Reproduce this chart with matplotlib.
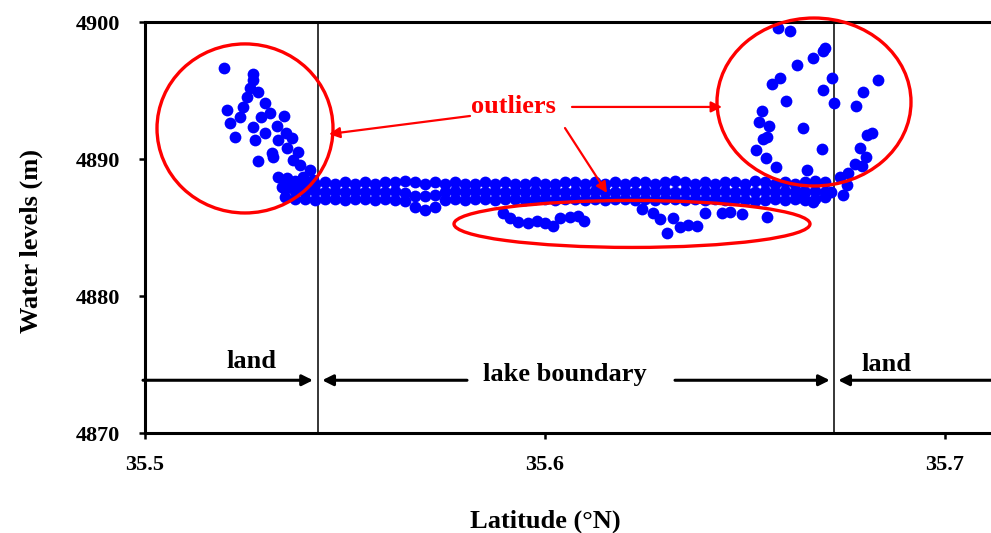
import matplotlib
matplotlib.use("Agg")
import matplotlib.pyplot as plt
from matplotlib.patches import Ellipse

plt.rcParams["font.family"] = ["Liberation Serif", "DejaVu Serif"]
plt.rcParams["font.weight"] = "bold"

# main band of water levels inside the lake boundary (three passes)
band_lat = [35.535, 35.5375, 35.540, 35.5425, 35.545, 35.5475, 35.550, 35.5525,
            35.555, 35.5575, 35.560, 35.5625, 35.565, 35.5675, 35.570, 35.5725,
            35.575, 35.5775, 35.580, 35.5825, 35.585, 35.5875, 35.590, 35.5925,
            35.595, 35.5975, 35.600, 35.6025, 35.605, 35.6075, 35.610, 35.6125,
            35.615, 35.6175, 35.620, 35.6225, 35.625, 35.6275, 35.630, 35.6325,
            35.635, 35.6375, 35.640, 35.6425, 35.645, 35.6475, 35.650, 35.6525,
            35.655, 35.6575, 35.660, 35.6625, 35.665, 35.6675, 35.670]
band_top = [4888.5, 4888.4, 4888.3, 4888.2, 4888.3, 4888.2, 4888.3, 4888.2,
            4888.3, 4888.2, 4888.3, 4888.3, 4888.4, 4888.3, 4888.2, 4888.3,
            4888.2, 4888.3, 4888.2, 4888.2, 4888.3, 4888.2, 4888.3, 4888.2,
            4888.2, 4888.3, 4888.2, 4888.2, 4888.3, 4888.3, 4888.2, 4888.3,
            4888.2, 4888.3, 4888.2, 4888.3, 4888.3, 4888.2, 4888.3, 4888.4,
            4888.3, 4888.2, 4888.3, 4888.2, 4888.3, 4888.3, 4888.2, 4888.4,
            4888.3, 4888.2, 4888.3, 4888.2, 4888.3, 4888.4, 4888.3]
band_mid = [4887.8, 4887.7, 4887.6, 4887.7, 4887.6, 4887.7, 4887.6, 4887.7,
            4887.6, 4887.7, 4887.6, 4887.7, 4887.5, 4887.3, 4887.3, 4887.4,
            4887.6, 4887.7, 4887.6, 4887.7, 4887.6, 4887.7, 4887.6, 4887.7,
            4887.6, 4887.7, 4887.6, 4887.7, 4887.6, 4887.7, 4887.6, 4887.7,
            4887.6, 4887.6, 4887.7, 4887.6, 4887.7, 4887.6, 4887.7, 4887.6,
            4887.7, 4887.6, 4887.7, 4887.6, 4887.7, 4887.6, 4887.7, 4887.6,
            4887.7, 4887.6, 4887.7, 4887.6, 4887.6, 4887.7, 4887.6]
band_bot = [4887.2, 4887.1, 4887.1, 4887.0, 4887.1, 4887.1, 4887.0, 4887.1,
            4887.1, 4887.0, 4887.1, 4887.0, 4886.9, 4886.5, 4886.3, 4886.5,
            4887.0, 4887.1, 4887.0, 4887.1, 4887.1, 4887.0, 4887.1, 4887.1,
            4887.0, 4887.1, 4887.1, 4887.0, 4887.1, 4887.1, 4887.0, 4887.1,
            4887.0, 4887.1, 4887.1, 4887.0, 4887.1, 4887.0, 4887.1, 4887.1,
            4887.0, 4887.1, 4887.0, 4887.1, 4887.0, 4887.1, 4887.0, 4886.9,
            4887.0, 4887.1, 4887.0, 4887.1, 4887.0, 4887.1, 4887.2]

# land / shoreline outliers on the south side
left_lat = [35.51975, 35.52708, 35.52708, 35.52625, 35.52833, 35.52543, 35.530,
            35.52443, 35.52058, 35.52375, 35.52125, 35.52893, 35.53125, 35.53475,
            35.52693, 35.53293, 35.530, 35.5275, 35.5225, 35.53525, 35.53668,
            35.53333, 35.53543, 35.53833, 35.53168, 35.53208, 35.52833, 35.53708,
            35.53875, 35.54125, 35.53333, 35.53543, 35.53418, 35.53668, 35.53958,
            35.54043, 35.54208, 35.53793]
left_h = [4896.66, 4896.18, 4895.77, 4895.16, 4894.91, 4894.55, 4894.11,
          4893.77, 4893.58, 4893.04, 4892.65, 4893.04, 4893.34, 4893.14,
          4892.31, 4892.41, 4891.88, 4891.39, 4891.58, 4891.88, 4891.51,
          4891.39, 4890.78, 4890.53, 4890.46, 4890.12, 4889.88, 4889.93,
          4889.56, 4889.20, 4888.71, 4888.59, 4887.98, 4888.23, 4888.71,
          4887.98, 4888.47, 4887.86]

# outliers on the north side
right_lat = [35.65833, 35.66125, 35.670, 35.66958, 35.66693, 35.66293, 35.67168,
             35.65875, 35.65668, 35.66958, 35.68333, 35.67943, 35.66025, 35.67233,
             35.67775, 35.65433, 35.65358, 35.65608, 35.66458, 35.65543, 35.65443,
             35.68043, 35.68175, 35.65275, 35.66918, 35.65525, 35.67875, 35.68018,
             35.65775, 35.66543, 35.6775, 35.67918, 35.67583, 35.67375, 35.67543,
             35.67143, 35.67458, 35.66375, 35.66708, 35.66458]
right_h = [4899.54, 4899.36, 4898.08, 4897.88, 4897.35, 4896.86, 4895.93,
           4895.89, 4895.45, 4895.04, 4895.77, 4894.91, 4894.26, 4894.11,
           4893.87, 4893.53, 4892.68, 4892.41, 4892.28, 4891.63, 4891.46,
           4891.75, 4891.88, 4890.68, 4890.71, 4890.10, 4890.78, 4890.17,
           4889.39, 4889.20, 4889.61, 4889.51, 4888.96, 4888.71, 4888.10,
           4887.61, 4887.37, 4887.25, 4886.88, 4887.61]

# low outliers inside the lake
low_lat = [35.58958, 35.59125, 35.59333, 35.59583, 35.59793, 35.600, 35.60208,
           35.60375, 35.60625, 35.60833, 35.60983, 35.62418, 35.62708, 35.62875,
           35.63208, 35.63375, 35.63583, 35.63793, 35.63043, 35.640, 35.64418,
           35.64625, 35.64918, 35.65543]
low_h = [4886.04, 4885.67, 4885.42, 4885.31, 4885.50, 4885.31, 4885.11,
         4885.67, 4885.79, 4885.84, 4885.47, 4886.33, 4886.09, 4885.60,
         4885.67, 4885.06, 4885.18, 4885.11, 4884.62, 4886.04, 4886.04,
         4886.15, 4885.99, 4885.79]

boundary_lat = [35.54325, 35.67225]

fig = plt.figure(figsize=(9.91, 5.33), dpi=100)
ax = fig.add_axes([145 / 991, 100 / 533, 846 / 991, 411 / 533])

dot = dict(s=72, color="#0000ff", linewidths=0, zorder=3)
for ys in (band_top, band_mid, band_bot):
    ax.scatter(band_lat, ys, **dot)
ax.scatter(left_lat, left_h, **dot)
ax.scatter(right_lat, right_h, **dot)
ax.scatter(low_lat, low_h, **dot)

for b in boundary_lat:
    ax.axvline(b, color="black", lw=1.1, zorder=2)

ax.set_xlim(35.5, 35.7115)
ax.set_ylim(4870, 4900)
ax.set_xticks([35.5, 35.6, 35.7])
ax.set_xticklabels(["35.5", "35.6", "35.7"])
ax.set_yticks([4870, 4880, 4890, 4900])
ax.tick_params(direction="out", length=4, width=1.8, labelsize=16)
ax.tick_params(axis="x", pad=12)
ax.tick_params(axis="y", pad=14)
for lab in ax.get_xticklabels() + ax.get_yticklabels():
    lab.set_fontweight("bold")
ax.spines["right"].set_visible(False)
for s in ("left", "bottom", "top"):
    ax.spines[s].set_linewidth(2.2)

# land / lake boundary arrows
ya = 4873.85
arr = dict(arrowstyle="-|>", color="black", lw=2.2, mutation_scale=16,
           shrinkA=0, shrinkB=0)
ax.annotate("", xy=(35.542, ya), xytext=(35.4995, ya), arrowprops=arr, annotation_clip=False)
ax.annotate("", xy=(35.5443, ya), xytext=(35.5805, ya), arrowprops=arr)
ax.annotate("", xy=(35.6712, ya), xytext=(35.6325, ya), arrowprops=arr)
ax.annotate("", xy=(35.6733, ya), xytext=(35.7115, ya), arrowprops=arr, annotation_clip=False)
ax.text(35.5265, 4874.74, "land", fontsize=19, fontweight="bold", ha="center", va="baseline")
ax.text(35.68525, 4874.53, "land", fontsize=19, fontweight="bold", ha="center", va="baseline")
ax.text(35.6049, 4873.8, "lake boundary", fontsize=19, fontweight="bold", ha="center", va="baseline")

# outlier marks
red = "#ff0000"
ax.add_patch(Ellipse((35.525, 4892.23), 0.044, 12.34, fill=False, ec=red, lw=2.4,
                     clip_on=False, zorder=4))
ax.add_patch(Ellipse((35.66725, 4894.16), 0.0485, 12.26, fill=False, ec=red, lw=2.4,
                     clip_on=False, zorder=4))
ax.add_patch(Ellipse((35.62175, 4885.26), 0.089, 3.43, fill=False, ec=red, lw=2.4,
                     clip_on=False, zorder=4))
ax.text(35.592, 4893.38, "outliers", fontsize=19, fontweight="bold", color=red,
        ha="center", va="baseline")
rarr = dict(arrowstyle="-|>", color=red, lw=1.6, mutation_scale=16, shrinkA=0, shrinkB=0)
ax.annotate("", xy=(35.546, 4891.82), xytext=(35.58125, 4893.14), arrowprops=rarr)
ax.annotate("", xy=(35.64425, 4893.80), xytext=(35.60675, 4893.80), arrowprops=rarr)
ax.annotate("", xy=(35.6155, 4887.52), xytext=(35.605, 4892.26), arrowprops=rarr, zorder=5)

fig.text(31 / 991, (533 - 241) / 533, "Water levels (m)", rotation=90, fontsize=19,
         fontweight="bold", ha="center", va="center")
fig.text(545 / 991, (533 - 521) / 533, "Latitude (°N)", fontsize=19,
         fontweight="bold", ha="center", va="center")

fig.savefig("out.png", dpi=100)
